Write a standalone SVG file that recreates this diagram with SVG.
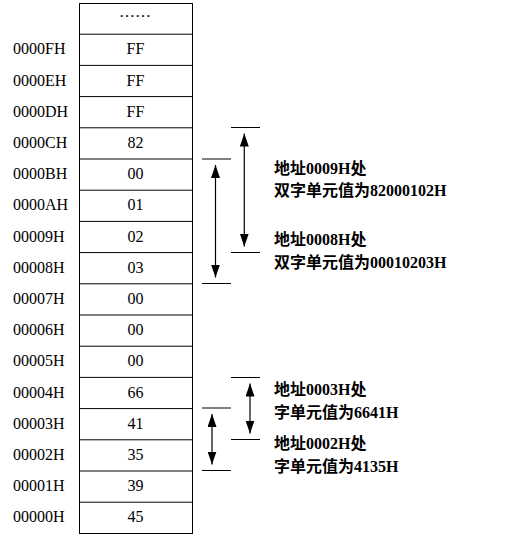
<svg xmlns="http://www.w3.org/2000/svg" width="514" height="537" viewBox="0 0 514 537">
<style>
.cell{fill:#fff;stroke:#000;stroke-width:1}
.rl{stroke:#000;stroke-width:1}
.addr{font-family:"Liberation Serif","Times New Roman",serif;font-size:16px;fill:#000}
.val{font-family:"Liberation Serif","Times New Roman",serif;font-size:16px;fill:#000;text-anchor:middle}
.note{font-family:"Liberation Serif","Noto Sans CJK SC",serif;font-size:16px;font-weight:bold;fill:#000}
.br{stroke:#000;stroke-width:1}
.arr{stroke:#000;stroke-width:1.2;fill:none;marker-start:url(#ah);marker-end:url(#ah)}
</style>
<defs>
<marker id="ah" markerUnits="userSpaceOnUse" markerWidth="13" markerHeight="9" refX="13" refY="4.5" orient="auto-start-reverse">
<path d="M0,0 L13,4.5 L0,9 z" fill="#000"/>
</marker>
</defs>
<g id="memory-table">
<rect class="cell" x="79.5" y="3.5" width="113" height="530"/>
<line class="rl" x1="79.5" y1="34.2" x2="192.5" y2="34.2"/>
<line class="rl" x1="79.5" y1="65.4" x2="192.5" y2="65.4"/>
<line class="rl" x1="79.5" y1="96.6" x2="192.5" y2="96.6"/>
<line class="rl" x1="79.5" y1="127.8" x2="192.5" y2="127.8"/>
<line class="rl" x1="79.5" y1="159" x2="192.5" y2="159"/>
<line class="rl" x1="79.5" y1="190.2" x2="192.5" y2="190.2"/>
<line class="rl" x1="79.5" y1="221.4" x2="192.5" y2="221.4"/>
<line class="rl" x1="79.5" y1="252.6" x2="192.5" y2="252.6"/>
<line class="rl" x1="79.5" y1="283.8" x2="192.5" y2="283.8"/>
<line class="rl" x1="79.5" y1="315" x2="192.5" y2="315"/>
<line class="rl" x1="79.5" y1="346.2" x2="192.5" y2="346.2"/>
<line class="rl" x1="79.5" y1="377.4" x2="192.5" y2="377.4"/>
<line class="rl" x1="79.5" y1="408.6" x2="192.5" y2="408.6"/>
<line class="rl" x1="79.5" y1="439.8" x2="192.5" y2="439.8"/>
<line class="rl" x1="79.5" y1="471" x2="192.5" y2="471"/>
<line class="rl" x1="79.5" y1="502.2" x2="192.5" y2="502.2"/>
</g>
<g id="values">
<text class="val" x="135" y="16.5">……</text>
<text class="val" x="135.5" y="54.3">FF</text>
<text class="val" x="135.5" y="85.5">FF</text>
<text class="val" x="135.5" y="116.7">FF</text>
<text class="val" x="135.5" y="147.9">82</text>
<text class="val" x="135.5" y="179.1">00</text>
<text class="val" x="135.5" y="210.3">01</text>
<text class="val" x="135.5" y="241.5">02</text>
<text class="val" x="135.5" y="272.7">03</text>
<text class="val" x="135.5" y="303.9">00</text>
<text class="val" x="135.5" y="335.1">00</text>
<text class="val" x="135.5" y="366.3">00</text>
<text class="val" x="135.5" y="397.5">66</text>
<text class="val" x="135.5" y="428.7">41</text>
<text class="val" x="135.5" y="459.9">35</text>
<text class="val" x="135.5" y="491.1">39</text>
<text class="val" x="135.5" y="522.3">45</text>
</g>
<g id="addresses">
<text class="addr" x="13" y="54.3">0000FH</text>
<text class="addr" x="13" y="85.5">0000EH</text>
<text class="addr" x="13" y="116.7">0000DH</text>
<text class="addr" x="13" y="147.9">0000CH</text>
<text class="addr" x="13" y="179.1">0000BH</text>
<text class="addr" x="13" y="210.3">0000AH</text>
<text class="addr" x="13" y="241.5">00009H</text>
<text class="addr" x="13" y="272.7">00008H</text>
<text class="addr" x="13" y="303.9">00007H</text>
<text class="addr" x="13" y="335.1">00006H</text>
<text class="addr" x="13" y="366.3">00005H</text>
<text class="addr" x="13" y="397.5">00004H</text>
<text class="addr" x="13" y="428.7">00003H</text>
<text class="addr" x="13" y="459.9">00002H</text>
<text class="addr" x="13" y="491.1">00001H</text>
<text class="addr" x="13" y="522.3">00000H</text>
</g>
<g id="connectors">
<line class="br" x1="231" y1="127.5" x2="260" y2="127.5"/>
<line class="br" x1="231" y1="252.5" x2="260" y2="252.5"/>
<line class="br" x1="202" y1="159" x2="231" y2="159"/>
<line class="br" x1="202" y1="283.5" x2="231" y2="283.5"/>
<path class="arr" d="M244.3,133.5 L244.3,246.5"/>
<path class="arr" d="M215.5,165 L215.5,277.5"/>
<line class="br" x1="231" y1="377.5" x2="260" y2="377.5"/>
<line class="br" x1="231" y1="439.5" x2="260" y2="439.5"/>
<line class="br" x1="202" y1="408" x2="231" y2="408"/>
<line class="br" x1="202" y1="470.5" x2="231" y2="470.5"/>
<path class="arr" d="M250,383.5 L250,433.5"/>
<path class="arr" d="M212,414 L212,464.5"/>
</g>
<g id="notes">
<text class="note" x="274" y="173.5">地址0009H处</text>
<text class="note" x="274" y="196">双字单元值为82000102H</text>
<text class="note" x="274" y="245">地址0008H处</text>
<text class="note" x="274" y="267.5">双字单元值为00010203H</text>
<text class="note" x="274" y="395">地址0003H处</text>
<text class="note" x="274" y="418">字单元值为6641H</text>
<text class="note" x="274" y="449">地址0002H处</text>
<text class="note" x="274" y="472">字单元值为4135H</text>
</g>
</svg>
